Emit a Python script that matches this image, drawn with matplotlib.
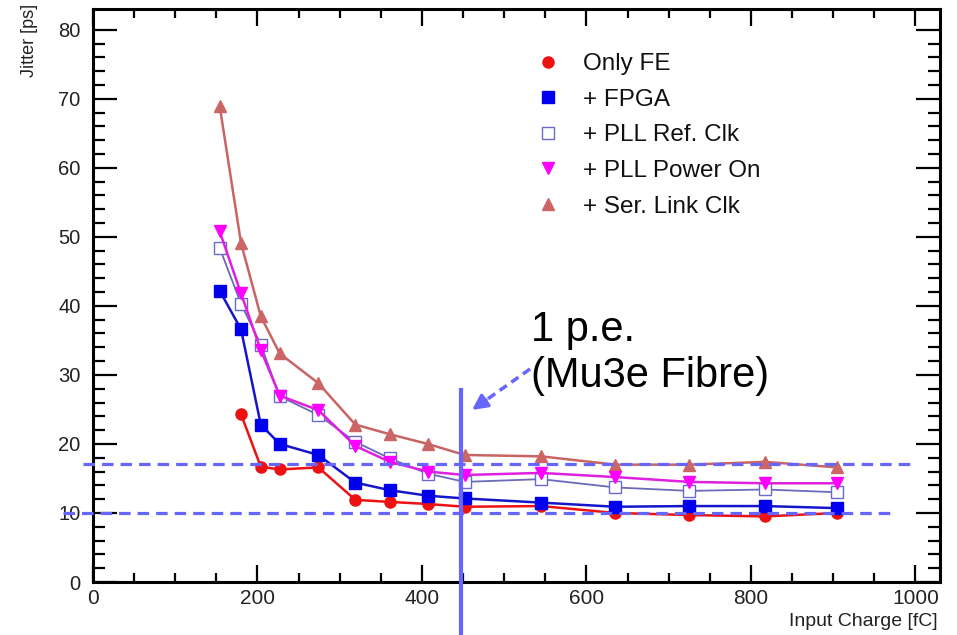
import matplotlib.pyplot as plt
from matplotlib.lines import Line2D

plt.rcParams['font.family'] = ['Liberation Sans', 'DejaVu Sans']

# input charge [fC]
charge = [154, 180, 204, 227, 274, 319, 361, 407, 452, 545, 635, 725, 817, 905]
# jitter [ps]
only_fe = [24.3, 16.7, 16.3, 16.6, 11.9, 11.6, 11.3, 10.9, 11.0, 10.0, 9.7, 9.5, 10.0]  # starts at 2nd charge
fpga = [42.2, 36.6, 22.8, 20.0, 18.4, 14.4, 13.3, 12.5, 12.1, 11.5, 10.9, 11.0, 11.0, 10.7]
pll_ref = [48.4, 40.3, 34.4, 26.9, 24.2, 20.3, 17.9, 15.7, 14.5, 14.9, 13.7, 13.2, 13.4, 13.0]
pll_pow = [50.8, 41.8, 33.6, 27.0, 24.9, 19.7, 17.4, 16.0, 15.5, 15.8, 15.2, 14.5, 14.3, 14.3]
ser_link = [69.0, 49.1, 38.5, 33.1, 28.8, 22.8, 21.4, 20.0, 18.4, 18.2, 17.0, 17.0, 17.4, 16.6]

labels = ['Only FE', '+ FPGA', '+ PLL Ref. Clk', '+ PLL Power On', '+ Ser. Link Clk']
ref_levels = [17.1, 10.0]
pe_charge = 448

fig = plt.figure(figsize=(9.57, 6.35), dpi=100)
ax = fig.add_axes([93/957, 53/635, 847/957, 573/635])

# series
ax.plot(charge[1:], only_fe, color='#ee1111', lw=1.8, marker='o', ms=8, zorder=3)
ax.plot(charge, fpga, color='#1515cc', lw=1.8, marker='s', ms=8.5, mfc='#0000ee', mec='#0000ee', zorder=4)
ax.plot(charge, pll_ref, color='#6a6ab8', lw=1.3, marker='s', ms=9, mfc='white', mec='#6a6acc', mew=1.0, zorder=5)
ax.plot(charge, pll_pow, color='#e020e0', lw=1.8, marker='v', ms=8, mfc='#ff00ff', mec='#ff00ff', zorder=6)
ax.plot(charge, ser_link, color='#c86464', lw=1.8, marker='^', ms=8, mfc='#cc6666', mec='#cc6666', zorder=2)

ax.set_xlim(0, 1030)
ax.set_ylim(0, 83)
ax.set_xticks(range(0, 1001, 200))
ax.set_xticks(range(0, 1001, 50), minor=True)
ax.set_yticks(range(0, 81, 10))
ax.set_yticks(range(0, 81, 2), minor=True)
ax.tick_params(which='both', direction='in', top=True, right=True, colors='black',
               labelcolor='#222222', width=1.6)
ax.tick_params(axis='x', which='major', length=12, pad=5, labelsize=15)
ax.tick_params(axis='x', which='minor', length=6.5)
ax.tick_params(axis='y', which='major', length=17, pad=9, labelsize=14.5)
ax.tick_params(axis='y', which='minor', length=8.5)
for s in ax.spines.values():
    s.set_linewidth(2.2)

fig.text(938/957, 1 - 621/635, 'Input Charge [fC]', ha='right', va='center', fontsize=14, color='#222222')
fig.text(30/957, 1 - 4/635, 'Jitter [ps]', ha='center', va='top', rotation=90, fontsize=13, color='#222222')

# reference lines
dash_col = '#6666ff'
ax.plot([-12, 996], [ref_levels[0]] * 2, color=dash_col, lw=2.3, dashes=(3.6, 2.2), clip_on=False, zorder=7)
ax.plot([-36, 971], [ref_levels[1]] * 2, color=dash_col, lw=2.3, dashes=(3.6, 2.2), clip_on=False, zorder=7)
ax.plot([pe_charge, pe_charge], [27.8, -7.7], color=dash_col, lw=3, clip_on=False, zorder=8)

# annotation
fig.text(531/957, 1 - 310/635, '1 p.e.\n(Mu3e Fibre)', ha='left', va='top', fontsize=30, linespacing=1.2)
fig.add_artist(Line2D([530/957, 482/957], [1 - 369/635, 1 - 403/635], color=dash_col, lw=2.5,
                      dashes=(2.5, 1.6)))
ax.annotate('', xy=(472/957, 1 - 410/635), xycoords='figure fraction',
            xytext=(486/957, 1 - 400/635), textcoords='figure fraction',
            arrowprops=dict(arrowstyle='-|>,head_length=0.9,head_width=0.45', color=dash_col, lw=2.5,
                            shrinkA=0, shrinkB=0))

# legend with marker-only handles
handles = [
    Line2D([], [], ls='none', marker='o', ms=8, color='#ee1111'),
    Line2D([], [], ls='none', marker='s', ms=8, color='#0000ee'),
    Line2D([], [], ls='none', marker='s', ms=8, mfc='white', mec='#6a6acc', mew=1.0),
    Line2D([], [], ls='none', marker='v', ms=8, color='#ff00ff'),
    Line2D([], [], ls='none', marker='^', ms=8, color='#cc6666'),
]
fig.legend(handles, labels, loc='upper left', bbox_to_anchor=(536/957, 1 - 53/635),
           frameon=False, fontsize=17.5, handlelength=1.0, handletextpad=0.95,
           labelspacing=0.56, borderpad=0, borderaxespad=0, labelcolor='#111111')

fig.savefig('out.png', dpi=100)
